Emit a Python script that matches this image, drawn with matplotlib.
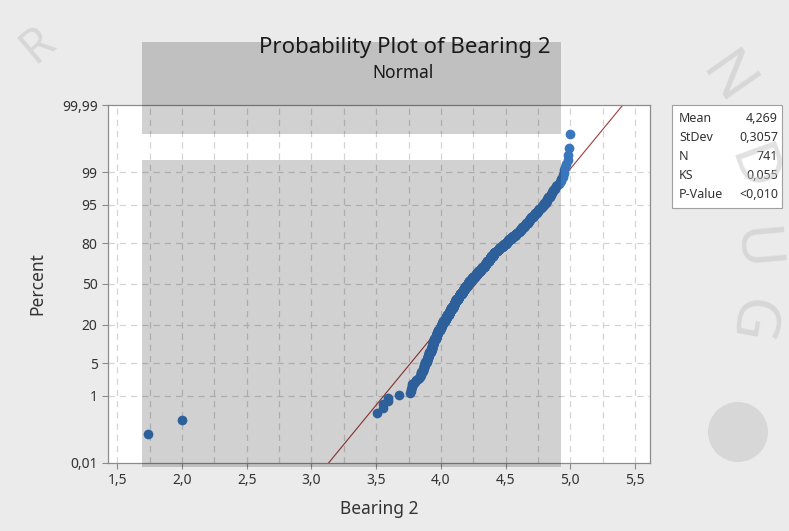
import math
import matplotlib
matplotlib.use("Agg")
import matplotlib.pyplot as plt
from matplotlib.patches import Rectangle, Circle
import numpy as np

plt.rcParams['font.family'] = ['Noto Sans', 'DejaVu Sans']

# measured values (Bearing 2), as value -> how many times it occurs
low_values = [1.74, 2.00, 3.51, 3.55, 3.59, 3.68]
low_counts = [1, 1, 1, 2, 2, 1]

grid_start = 3.76   # counts below are for 3.76, 3.77, ... 5.00 (step 0.01)
grid_counts = [
    1, 2, 3, 1, 1, 1, 1, 1, 2,              # 3.76 - 3.84
    4, 4, 5, 5, 6, 6, 7, 7,                 # 3.85 - 3.92
    9, 10, 10, 11, 11,                      # 3.93 - 3.97
    9, 9, 9, 10, 10, 9,                     # 3.98 - 4.03
    11, 11, 12, 12, 12, 12, 12, 12, 12,     # 4.04 - 4.12
    11, 11, 11, 11, 11, 11, 11, 11, 11, 11, 11,  # 4.13 - 4.23
    8, 8, 8, 8, 8, 8, 8, 8, 8, 8,           # 4.24 - 4.33
    9, 9, 9, 9, 9, 9, 9, 9,                 # 4.34 - 4.41
    5, 5, 5, 5, 5, 5, 5, 5, 5, 5,           # 4.42 - 4.51
    5, 5, 5,                                # 4.52 - 4.54
    4, 4, 4, 4, 4, 4, 4, 4, 5, 4, 4, 4, 4, 4, 4,  # 4.55 - 4.69
    3, 3, 3, 3, 3, 3, 3, 2, 2, 2,           # 4.70 - 4.79
    3, 3, 3,                                # 4.80 - 4.82
    2, 2, 2, 2, 2, 2, 1, 1, 1, 1,           # 4.83 - 4.92
    2, 2, 2, 1,                             # 4.93 - 4.96
    1, 2, 1, 1,                             # 4.97 - 5.00
]

stat_names = ["Mean", "StDev", "N", "KS", "P-Value"]
stat_values = ["4,269", "0,3057", "741", "0,055", "<0,010"]
fit_mean = 4.269
fit_sd = 0.3057

y_ticks_pct = [0.01, 1, 5, 20, 50, 80, 95, 99, 99.99]
y_tick_labels = ["0,01", "1", "5", "20", "50", "80", "95", "99", "99,99"]
x_ticks = [1.5, 2.0, 2.5, 3.0, 3.5, 4.0, 4.5, 5.0, 5.5]
x_tick_labels = ["1,5", "2,0", "2,5", "3,0", "3,5", "4,0", "4,5", "5,0", "5,5"]


def norm_ppf(p):
    # inverse of the normal cdf by bisection on math.erf
    lo, hi = -10.0, 10.0
    for _ in range(80):
        mid = (lo + hi) / 2
        if 0.5 * (1 + math.erf(mid / math.sqrt(2))) < p:
            lo = mid
        else:
            hi = mid
    return (lo + hi) / 2


data = []
for v, c in zip(low_values, low_counts):
    data.extend([v] * c)
for k, c in enumerate(grid_counts):
    data.extend([round(grid_start + 0.01 * k, 2)] * c)
data = np.sort(np.array(data))
n = len(data)
ranks = np.arange(1, n + 1)
z_pos = np.array([norm_ppf((i - 0.3) / (n + 0.4)) for i in ranks])

W, H = 789, 531
fig = plt.figure(figsize=(W / 100, H / 100), dpi=100)
fig.patch.set_facecolor('#EBEBEB')


def fx(px):
    return px / W


def fy(py):
    return 1 - py / H


ax = fig.add_axes([fx(108), fy(463), fx(650) - fx(108), fy(105) - fy(463)])
ax.set_facecolor('white')

zmax = norm_ppf(0.9999)
ax.set_ylim(-zmax, zmax)
ax.set_xlim(1.428, 5.616)

grid_kw = dict(color='#D4D4D4', lw=0.9, ls=(0, (5, 4)), zorder=1)
for gx in np.arange(1.5, 5.51, 0.25):
    ax.axvline(gx, **grid_kw)
for p in y_ticks_pct[1:-1]:
    ax.axhline(norm_ppf(p / 100), **grid_kw)

zz = np.array([-zmax, zmax])
ax.plot(fit_mean + fit_sd * zz, zz, color='#A33A3A', lw=0.8, zorder=2)
ax.plot(data, z_pos, 'o', color='#3876BD', ms=7, mew=0, zorder=3)

ax.set_yticks([norm_ppf(p / 100) for p in y_ticks_pct])
ax.set_yticklabels(y_tick_labels)
ax.set_xticks(x_ticks)
ax.set_xticklabels(x_tick_labels)
ax.tick_params(colors='#8C8C8C', labelcolor='#333333', labelsize=10, length=4, width=0.8)
for s in ax.spines.values():
    s.set_color('#8C8C8C')
    s.set_linewidth(0.9)

ax.set_xlabel('Bearing 2', fontsize=12.5, color='#333333', labelpad=8)
ax.set_ylabel('Percent', fontsize=12.5, color='#333333', labelpad=11)

fig.text(fx(405), fy(47), 'Probability Plot of Bearing 2', ha='center', va='center',
         fontsize=16, color='#1A1A1A', zorder=12)
fig.text(fx(403), fy(73), 'Normal', ha='center', va='center', fontsize=12.5,
         color='#1A1A1A', zorder=12)

# statistics box
fig.add_artist(Rectangle((fx(672), fy(208)), fx(782) - fx(672), fy(105) - fy(208),
                         transform=fig.transFigure, facecolor='white',
                         edgecolor='#A0A0A0', lw=0.8, zorder=3))
for k, (name, val) in enumerate(zip(stat_names, stat_values)):
    yy = fy(119 + 18.8 * k)
    fig.text(fx(679), yy, name, ha='left', va='center', fontsize=9, color='#333333', zorder=4)
    fig.text(fx(778), yy, val, ha='right', va='center', fontsize=9, color='#333333', zorder=4)

# grey watermark blocks laid over the chart
for (x0, y0, x1, y1) in [(142, 42, 561, 134), (142, 160, 561, 467)]:
    fig.add_artist(Rectangle((fx(x0), fy(y1)), fx(x1) - fx(x0), fy(y0) - fy(y1),
                             transform=fig.transFigure, facecolor='black',
                             alpha=0.18, lw=0, zorder=10))

# faint watermark lettering
wm = dict(color='#C4C4C4', alpha=0.5, fontsize=44, fontweight='bold',
          ha='center', va='center', zorder=11)
fig.text(fx(725), fy(80), 'N', rotation=-55, **wm)
fig.text(fx(750), fy(170), 'D', rotation=-70, **wm)
fig.text(fx(752), fy(250), 'U', rotation=-85, **wm)
fig.text(fx(748), fy(320), 'G', rotation=-100, **wm)
wm['fontsize'] = 34
fig.text(fx(38), fy(45), 'R', rotation=40, **wm)
fig.add_artist(Circle((7.38, (H - 432) / 100), 0.3, transform=fig.dpi_scale_trans,
                      facecolor='#C4C4C4', alpha=0.5, lw=0, zorder=11))

fig.savefig('out.png', dpi=100, facecolor=fig.get_facecolor())
